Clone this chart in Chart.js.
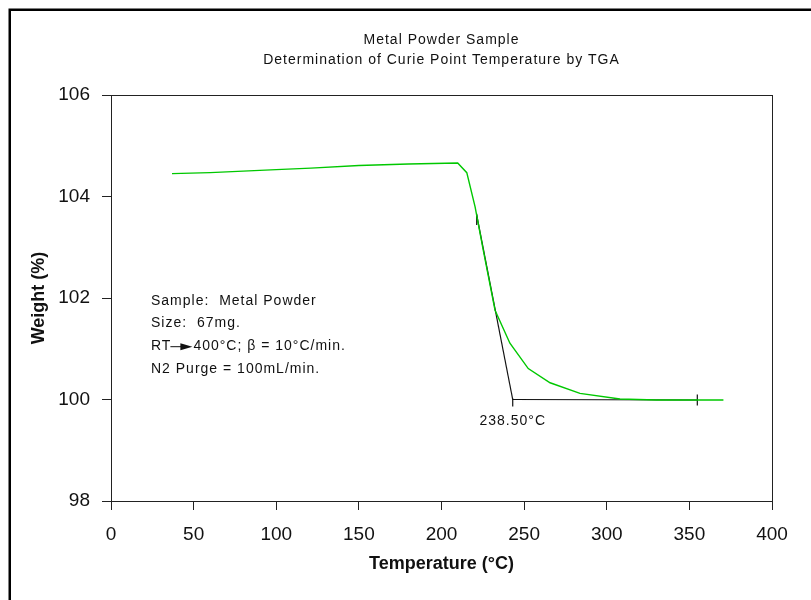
<!DOCTYPE html>
<html>
<head>
<meta charset="utf-8">
<script src="https://cdn.jsdelivr.net/npm/chart.js@4/dist/chart.umd.min.js"></script>
<style>
  html, body { margin: 0; padding: 0; background: #fff; }
  #wrap { width: 811px; height: 600px; }
</style>
</head>
<body>
<div id="wrap"><canvas id="tgaChart" width="811" height="600"></canvas></div>
<script>
// TGA curve
const tempC = [36.9, 60, 100, 121, 150, 180, 209.8, 215.3, 220.3, 225.3, 232.4, 241.4, 252.5, 265.7, 283.8, 308, 330, 370.6];
const weightPct = [104.45, 104.47, 104.53, 104.56, 104.61, 104.64, 104.66, 104.47, 103.80, 102.94, 101.76, 101.11, 100.61, 100.33, 100.12, 100.01, 99.99, 99.99];

// onset construction (tangent + baseline)
const tangentT = [221.3, 243.1];
const tangentW = [103.64, 100.0];
const baseT = [243.1, 354.8];
const baseW = [100.0, 99.99];
// little end marks
const markT = [221.3, 243.1, 354.8];
const markTop = [103.66, 100.02, 100.1];
const markBottom = [103.44, 99.86, 99.88];

const xTicks = [0, 50, 100, 150, 200, 250, 300, 350, 400];
const yTicks = [98, 100, 102, 104, 106];

const titleLines = ["Metal Powder Sample", "Determination of Curie Point Temperature by TGA"];
const infoLines = ["Sample:  Metal Powder", "Size:  67mg.", "RT|400°C; \u03b2 = 10°C/min.", "N2 Purge = 100mL/min."];
const onsetLabel = "238.50°C";

function pts(xs, ys) {
    return xs.map((x, i) => ({ x: x, y: ys[i] }));
}

const datasets = [{
    data: pts(tempC, weightPct),
    borderColor: "#00c800",
    borderWidth: 1.4
}, {
    data: pts(tangentT, tangentW),
    borderColor: "#111",
    borderWidth: 1.2
}, {
    data: pts(baseT, baseW),
    borderColor: "#111",
    borderWidth: 1.2
}];
markT.forEach((t, i) => {
    datasets.push({
        data: [{ x: t, y: markTop[i] }, { x: t, y: markBottom[i] }],
        borderColor: "#111",
        borderWidth: 1.2
    });
});

// plot frame, outer border, titles and the text notes
const extras = {
    id: "extras",
    afterDraw(chart) {
        const ctx = chart.ctx;
        const a = chart.chartArea;
        const xs = chart.scales.x;
        const ys = chart.scales.y;
        ctx.save();
        ctx.strokeStyle = "#222";
        ctx.lineWidth = 1;
        ctx.strokeRect(a.left + 0.5, a.top + 0.5, a.right - a.left, a.bottom - a.top);

        ctx.strokeStyle = "#000";
        ctx.lineWidth = 2.5;
        ctx.strokeRect(9.75, 9.75, 900, 900);

        ctx.fillStyle = "#111";
        ctx.font = "14px 'Liberation Sans', Arial, sans-serif";
        ctx.letterSpacing = "1px";
        ctx.textBaseline = "middle";

        ctx.textAlign = "center";
        const cx = (a.left + a.right) / 2;
        titleLines.forEach((line, i) => {
            ctx.fillText(line, cx, 40 + i * 20);
        });

        ctx.textAlign = "left";
        const x0 = xs.getPixelForValue(24.2);
        const y0 = ys.getPixelForValue(102) + 3;
        infoLines.forEach((line, i) => {
            const y = y0 + i * 22.6;
            const parts = line.split("|");
            if (parts.length === 1) {
                ctx.fillText(line, x0, y);
                return;
            }
            // RT -> arrow drawn by hand
            ctx.fillText(parts[0], x0, y);
            let x = x0 + ctx.measureText(parts[0]).width;
            ctx.beginPath();
            ctx.moveTo(x - 1, y + 0.5);
            ctx.lineTo(x + 12, y + 0.5);
            ctx.lineWidth = 1;
            ctx.strokeStyle = "#111";
            ctx.stroke();
            ctx.beginPath();
            ctx.moveTo(x + 9, y - 3);
            ctx.lineTo(x + 21, y + 0.5);
            ctx.lineTo(x + 9, y + 4);
            ctx.closePath();
            ctx.fill();
            ctx.fillText(parts[1], x + 22, y);
        });

        ctx.textAlign = "center";
        ctx.fillText(onsetLabel, xs.getPixelForValue(243.1), ys.getPixelForValue(99.58));
        ctx.restore();
    }
};

const tickFont = { family: "'Liberation Sans', Arial, sans-serif", size: 19 };
const titleFont = { family: "'Liberation Sans', Arial, sans-serif", size: 18, weight: "bold" };

new Chart(document.getElementById("tgaChart"), {
    type: "line",
    data: { datasets: datasets },
    options: {
        responsive: false,
        animation: false,
        elements: { point: { radius: 0 }, line: { tension: 0, fill: false } },
        layout: { padding: { left: 0, right: 39, top: 95, bottom: 0 } },
        plugins: {
            legend: { display: false },
            tooltip: { enabled: false },
            title: { display: false }
        },
        scales: {
            x: {
                type: "linear",
                min: 0,
                max: 400,
                afterBuildTicks: s => { s.ticks = xTicks.map(v => ({ value: v })); },
                afterFit: s => { s.height = 99; },
                ticks: { color: "#111", font: tickFont, padding: 13, maxRotation: 0 },
                grid: { drawOnChartArea: false, drawTicks: true, tickLength: 9, color: "#222" },
                border: { display: true, color: "#222" },
                title: { display: true, text: "Temperature (°C)", color: "#111", font: titleFont, padding: { top: 0, bottom: 25 } }
            },
            y: {
                type: "linear",
                min: 98,
                max: 106,
                afterBuildTicks: s => { s.ticks = yTicks.map(v => ({ value: v })); },
                afterFit: s => { s.width = 111; },
                ticks: { color: "#111", font: tickFont, padding: 12 },
                grid: { drawOnChartArea: false, drawTicks: true, tickLength: 9, color: "#222" },
                border: { display: true, color: "#222" },
                title: { display: true, text: "Weight (%)", color: "#111", font: titleFont, padding: { top: 28, bottom: 0 } }
            }
        }
    },
    plugins: [extras]
});
</script>
</body>
</html>
